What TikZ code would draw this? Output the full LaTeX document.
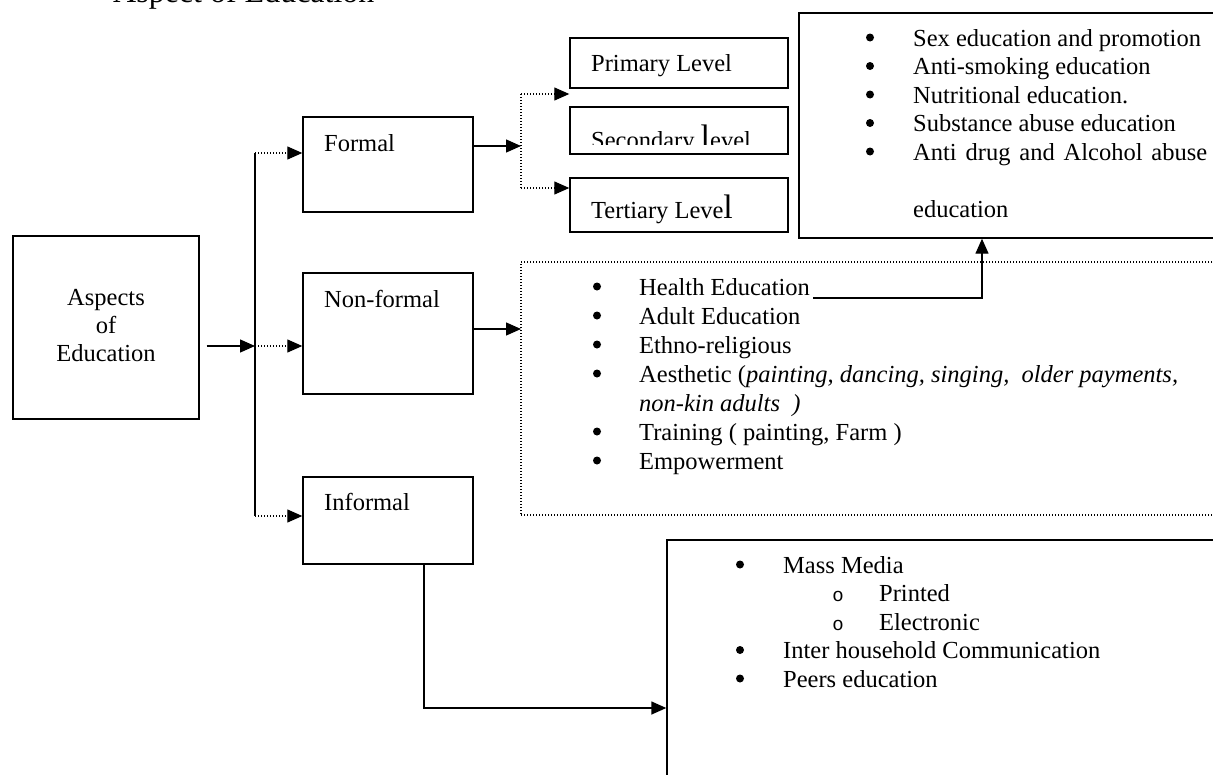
\documentclass[tikz,border=0pt]{standalone}
\usepackage{fontspec}
\setmainfont{Liberation Serif}
\newfontfamily\circlefont{Liberation Mono}
\usetikzlibrary{arrows.meta}
\newcommand{\bodyfont}{\fontsize{24.5}{28.5}\selectfont}
\newcommand{\tallL}{{\fontsize{34}{34}\selectfont l}}
\begin{document}
\begin{tikzpicture}[x=1pt,y=-1pt,
  box/.style={draw, line width=1.4pt, inner sep=0pt},
  dotbox/.style={draw, line width=1.2pt, dash pattern=on 1pt off 2pt, inner sep=0pt},
  txt/.style={anchor=base west, inner sep=0pt, font=\bodyfont},
  ctxt/.style={anchor=base, inner sep=0pt, font=\bodyfont},
  bul/.style={circle, fill, inner sep=0pt, minimum size=8pt},
  sub/.style={anchor=base, inner sep=0pt, font=\circlefont\fontsize{19}{19}\selectfont},
  link/.style={line width=1.4pt, -{Triangle[length=15pt,width=13pt]}},
  dotline/.style={line width=1.2pt, dash pattern=on 1pt off 2pt},
  dotlink/.style={dotline, -{Triangle[length=15pt,width=13pt]}}]
\useasboundingbox (0,0) rectangle (1213,774);

% heading (runs off the top edge)
\node[anchor=base west, inner sep=0pt, font=\fontsize{32}{36}\selectfont] (title) at (113,2) {Aspect of Education};

% boxes
\node[box, minimum width=186pt, minimum height=183pt] (aspects) at (106,327.5) {};
\node[box, minimum width=170pt, minimum height=95pt] (formal) at (388,164.5) {};
\node[box, minimum width=170pt, minimum height=121pt] (nonformal) at (388,333.5) {};
\node[box, minimum width=170pt, minimum height=87pt] (informal) at (388,520.5) {};
\node[box, minimum width=218pt, minimum height=50pt] (primary) at (679,63) {};
\node[box, minimum width=218pt, minimum height=47pt] (secondary) at (679,130.5) {};
\node[box, minimum width=218pt, minimum height=54pt] (tertiary) at (679,205) {};
\node[box, minimum width=436pt, minimum height=225pt] (health) at (1017,125.5) {};
\node[dotbox, minimum width=714pt, minimum height=253pt] (nflist) at (878,388.5) {};
\node[box, minimum width=568pt, minimum height=260pt] (media) at (951,670) {};

% box captions
\node[ctxt] (aspA) at (106,305) {Aspects};
\node[ctxt] (aspB) at (106,333) {of};
\node[ctxt] (aspC) at (106,361) {Education};
\node[txt] (formalT) at (324,151) {Formal};
\node[txt] (nonformalT) at (324,307) {Non-formal};
\node[txt] (informalT) at (324,510) {Informal};
\node[txt] (primaryT) at (591,71) {Primary Level};
\begin{scope}
  \clip (570,107) rectangle (788,144);
  \node[txt] (secondaryT) at (591,148) {Secondary \tallL evel};
\end{scope}
\node[txt] (tertiaryT) at (591,218) {Tertiary Leve\tallL};

% health education topics
\foreach \y [count=\i] in {46,74.5,103,131.5,160} {
  \node[bul] (hb\i) at (870,\y-8.5) {};
}
\node[txt] (h1) at (913,46) {Sex education and promotion};
\node[txt] (h2) at (913,74.5) {Anti-smoking education};
\node[txt] (h3) at (913,103) {Nutritional education.};
\node[txt] (h4) at (913,131.5) {Substance abuse education};
\node[txt] (h5) at (913,160) {\hbox to 294pt{Anti\hfil drug\hfil and\hfil Alcohol\hfil abuse}};
\node[txt] (h6) at (913,217) {education};

% non-formal topics
\foreach \y [count=\i] in {295,324,353,382,440,469} {
  \node[bul] (nb\i) at (597,\y-8.5) {};
}
\node[txt] (n1) at (639,295) {Health Education};
\node[txt] (n2) at (639,324) {Adult Education};
\node[txt] (n3) at (639,353) {Ethno-religious};
\node[txt] (n4) at (639,382) {Aesthetic (\textit{painting, dancing, singing,\ \ older payments,}};
\node[txt] (n4b) at (639,411) {\textit{non-kin adults\ \ )}};
\node[txt] (n5) at (639,440) {Training ( painting, Farm )};
\node[txt] (n6) at (639,469) {Empowerment};

% informal topics
\foreach \y [count=\i] in {573,658.5,687} {
  \node[bul] (mb\i) at (740,\y-8.5) {};
}
\node[sub] (ms1) at (838,601.5) {o};
\node[sub] (ms2) at (838,630) {o};
\node[txt] (m1) at (783,573) {Mass Media};
\node[txt] (m2) at (879,601.5) {Printed};
\node[txt] (m3) at (879,630) {Electronic};
\node[txt] (m4) at (783,658.5) {Inter household Communication};
\node[txt] (m5) at (783,687) {Peers education};

% junction points
\coordinate (trunkTop) at (255,153);
\coordinate (trunkMid) at (255,346);
\coordinate (trunkBot) at (255,516);
\coordinate (forkTop) at (521,94);
\coordinate (forkMid) at (521,146);
\coordinate (forkBot) at (521,188);
\coordinate (nfIn) at (521,329);
\coordinate (hStart) at (813,298);
\coordinate (hBend) at (982,298);
\coordinate (iBend) at (424,708);

% connectors
\draw[line width=1.4pt] (trunkTop) -- (trunkBot);
\draw[link, shorten <=7pt] (aspects.east |- trunkMid) -- (trunkMid);
\draw[dotlink] (trunkTop) -- (formal.west |- trunkTop);
\draw[dotlink] (trunkMid) -- (nonformal.west |- trunkMid);
\draw[dotlink] (trunkBot) -- (informal.west |- trunkBot);
\draw[link] (formal.east |- forkMid) -- (forkMid);
\draw[dotline] (forkTop) -- (forkBot);
\draw[dotlink] (forkTop) -- (primary.west |- forkTop);
\draw[dotlink] (forkBot) -- (tertiary.west |- forkBot);
\draw[link] (nonformal.east |- nfIn) -- (nfIn);
\draw[link] (hStart) -- (hBend) -- (hBend |- health.south);
\draw[link] (informal.south -| iBend) -- (iBend) -- (media.west |- iBend);
\end{tikzpicture}
\end{document}
